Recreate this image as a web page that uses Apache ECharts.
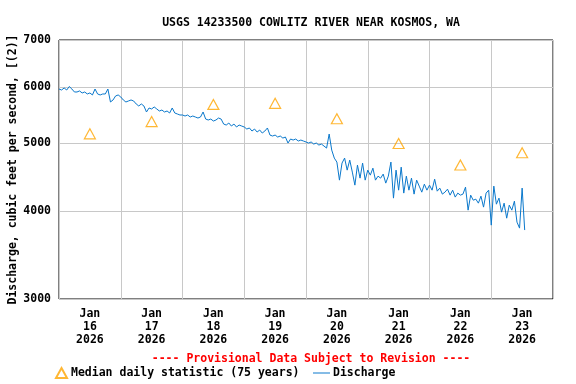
<!DOCTYPE html>
<html><head><meta charset="utf-8">
<script src="https://cdn.jsdelivr.net/npm/echarts@6/dist/echarts.min.js"></script>
<style>html,body{margin:0;padding:0;background:#fff}#c{width:576px;height:384px}</style>
</head><body><div id="c"></div>
<script>
const titleText = 'USGS 14233500 COWLITZ RIVER NEAR KOSMOS, WA';
const provisionalText = '---- Provisional Data Subject to Revision ----';
const yAxisTitle = 'Discharge, cubic feet per second, [(2)]';
const dayLabels = ['Jan\n16\n2026','Jan\n17\n2026','Jan\n18\n2026','Jan\n19\n2026','Jan\n20\n2026','Jan\n21\n2026','Jan\n22\n2026','Jan\n23\n2026'];
const medianValues = [5150, 5360, 5670, 5690, 5410, 4990, 4650, 4840];
const yTicks = [3000, 4000, 5000, 6000, 7000];
const dischargeStart = Date.UTC(2026, 0, 16, 0, 0);
const dischargeStepHours = 1;
const dischargeJan16 = [5963,5944,5983,5944,6012,5963,5905,5905,5925,5886,5905,5867,5886,5848,5963,5867,5848,5867,5867,5963,5715,5753,5829,5848];
const dischargeJan17 = [5810,5753,5715,5734,5753,5734,5678,5641,5678,5641,5531,5604,5586,5623,5586,5549,5567,5531,5549,5513,5604,5513,5495,5477];
const dischargeJan18 = [5477,5459,5477,5441,5459,5441,5423,5441,5531,5405,5388,5405,5370,5388,5423,5405,5317,5300,5335,5283,5317,5266,5300,5283];
const dischargeJan19 = [5266,5231,5249,5197,5231,5180,5214,5163,5197,5249,5129,5113,5129,5096,5113,5079,5096,4997,5063,5046,5063,5030,5046,5030];
const dischargeJan20 = [5014,4997,5014,4980,4997,4964,4980,4948,4915,5146,4883,4757,4695,4426,4680,4757,4573,4726,4544,4354,4649,4455,4680,4426];
const dischargeJan21 = [4573,4499,4603,4426,4484,4455,4514,4383,4484,4695,4173,4573,4283,4618,4242,4484,4283,4455,4228,4426,4340,4255,4368,4283];
const dischargeJan22 = [4354,4283,4440,4269,4312,4228,4255,4297,4214,4283,4187,4242,4214,4228,4326,4012,4214,4145,4159,4105,4200,4052,4242,4283];
const dischargeJan23 = [3820,4340,4091,4173,3986,4105,3908,4078,4012,4132,3858,3783,4312,3759];

const allDischarge = [].concat(dischargeJan16, dischargeJan17, dischargeJan18, dischargeJan19,
  dischargeJan20, dischargeJan21, dischargeJan22, dischargeJan23);
const dischargeData = allDischarge.map((v, i) => [dischargeStart + i * dischargeStepHours * 3600000, v]);

const FONT = '"DejaVu Sans Mono", monospace';
const chart = echarts.init(document.getElementById('c'), null, {renderer: 'canvas'});
chart.setOption({
  animation: false,
  backgroundColor: '#fff',
  title: [
    {text: titleText, left: 306, textAlign: 'center', top: 12,
     textStyle: {fontFamily: FONT, fontSize: 11.5, fontWeight: 'bold', color: '#000'}},
    {text: provisionalText, left: 306, textAlign: 'center', top: 348,
     textStyle: {fontFamily: FONT, fontSize: 11.5, fontWeight: 'bold', color: '#ff0000'}}
  ],
  legend: [
    {data: [{name: 'Median daily statistic (75 years)', icon: 'triangle'}], left: 55, top: 367,
     itemWidth: 11, itemHeight: 10, itemGap: 4, padding: 0,
     textStyle: {fontFamily: FONT, fontSize: 11.5, fontWeight: 'bold', color: '#000', padding: [0,0,0,-1]}},
    {data: [{name: 'Discharge', icon: 'rect'}], left: 313, top: 367,
     itemWidth: 17, itemHeight: 1, padding: 0,
     textStyle: {fontFamily: FONT, fontSize: 11.5, fontWeight: 'bold', color: '#000', padding: [0,0,0,-2]}}
  ],
  grid: {left: 59, top: 40, width: 494, height: 259, outerBoundsMode: 'none', containLabel: false,
         show: true, borderColor: '#000', borderWidth: 1, backgroundColor: 'transparent'},
  xAxis: [
    {type: 'category', data: dayLabels, boundaryGap: true,
     axisLine: {show: false}, axisTick: {show: false},
     splitLine: {show: true, interval: 0, lineStyle: {color: '#c8c8c8', width: 1}},
     axisLabel: {interval: 0, margin: 9, fontFamily: FONT, fontSize: 11.5, fontWeight: 'bold', color: '#000', lineHeight: 13}},
    {type: 'time', min: dischargeStart, max: dischargeStart + 8 * 86400000, show: false,
     splitLine: {show: false}}
  ],
  yAxis: {
    type: 'log', logBase: 10, min: 3000, max: 7000,
    name: yAxisTitle, nameLocation: 'middle', nameRotate: 90, nameGap: 40, nameMoveOverlap: false,
    nameTextStyle: {fontFamily: FONT, fontSize: 11.5, fontWeight: 'bold', color: '#000'},
    axisLine: {show: false},
    axisTick: {show: false, customValues: yTicks},
    axisLabel: {customValues: yTicks, margin: 8, fontFamily: FONT, fontSize: 11.5, fontWeight: 'bold', color: '#000',
      formatter: v => String(Math.round(v))},
    splitLine: {show: true, lineStyle: {color: '#c8c8c8', width: 1}}
  },
  series: [
    {name: 'Median daily statistic (75 years)', type: 'scatter', xAxisIndex: 0, data: medianValues,
     symbol: 'triangle', symbolSize: [11, 10], z: 3,
     itemStyle: {color: 'rgba(0,0,0,0)', borderColor: '#ffa500', borderWidth: 1.2}},
    {name: 'Discharge', type: 'line', xAxisIndex: 1, data: dischargeData, showSymbol: false,
     lineStyle: {color: '#0a78cc', width: 1}, itemStyle: {color: '#0a78cc'}, z: 2}
  ]
});
</script></body></html>
